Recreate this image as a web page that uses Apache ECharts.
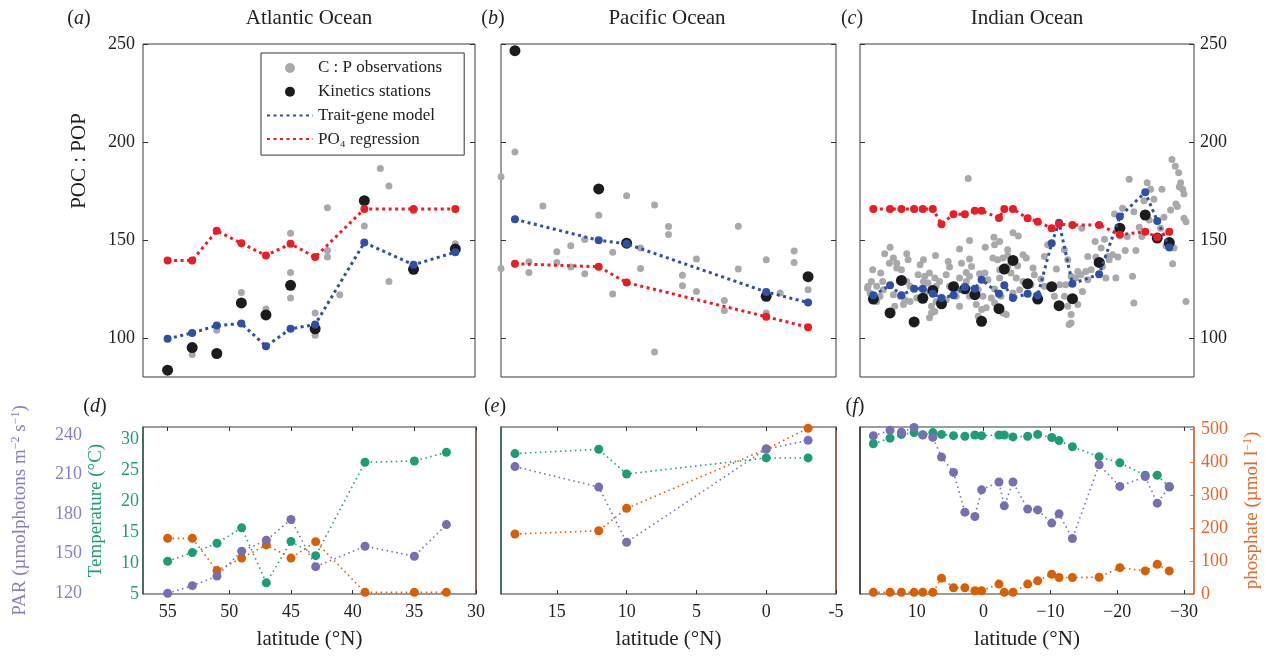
<!DOCTYPE html>
<html>
<head>
<meta charset="utf-8">
<script src="https://cdn.jsdelivr.net/npm/echarts@6/dist/echarts.min.js"></script>
<style>
  html, body { margin: 0; background: #fff; }
  #main { width: 1266px; height: 659px; }
</style>
</head>
<body>
<div id="main"></div>
<script>
// station latitudes (°N)
var atlLat = [55, 53, 51, 49, 47, 45, 43, 39, 35, 31.6];
var atlLatEnv = [55, 53, 51, 49, 47, 45, 43, 39, 35, 32.4];
var pacLat = [18, 12, 10, 0, -3];
var indLat = [16.5, 14, 12.3, 10.4, 9.1, 7.6, 6.3, 4.5, 2.8, 1.3, 0.3, -2.3, -3.1, -4.4, -6.6, -8.1, -10.2, -11.3, -13.3, -17.3, -20.4, -24.2, -26, -27.8];

// POC:POP - Atlantic
var atlTrait = [99.5, 102.5, 106.3, 107.3, 95.7, 104.6, 106.8, 148.6, 137.3, 143.7];
var atlPO4 = [139.5, 139.5, 154.6, 148.3, 142, 148, 141.2, 165.8, 165.8, 165.8];
var atlKin = [83.5, 95, 92, 117.8, 111.7, 126.8, 104.6, 170, 135, 145.3];
var atlObs = [[53,91.5],[51,103.9],[49,123.2],[47,114.7],[45,153.4],[45,133.4],[45,120.3],[43,112.7],[43,101.3],[42,166.4],[42,144.6],[42,141.2],[41,122],[39,157.1],[37.7,186.5],[37,177.5],[37,128.8],[35,164.8],[31.6,148]];

// POC:POP - Pacific
var pacTrait = [160.5, 149.8, 148, 123.4, 118];
var pacPO4 = [137.8, 136.3, 128.2, 110.8, 105.4];
var pacKin = [246.6, 176, 148.3, 121.2, 131.2];
var pacObs = [[19,182.2],[19,135.4],[18,194.9],[17,138.8],[17,133.4],[16,167.3],[15,144],[15,138.5],[14,147],[14,136.1],[13,150.2],[13,132.7],[12,162.6],[11,143.7],[11,122.4],[10,172.5],[9,145.8],[9,135.4],[8,167.8],[8,92.7],[7,156.8],[7,152.7],[6,132],[6,126.6],[5,140.2],[5,123.7],[3,119.1],[3,114],[2,157],[2,135.1],[0,139.8],[0,112.7],[-1,122.9],[-2,144.3],[-2,138.5],[-3,124.6]];

// POC:POP - Indian
var indTrait = [121.7, 126.8, 121.7, 125.1, 125.1, 122.5, 120.3, 121.7, 125.9, 125.1, 129.7, 122.5, 126.8, 120.3, 122.5, 121.7, 148.3, 158.8, 127.6, 132.5, 161.9, 174.3, 159.7, 146.1];
var indPO4 = [165.8, 165.8, 165.8, 165.8, 165.8, 165.8, 158, 163.1, 163.1, 164.9, 164.9, 161.2, 165.8, 165.8, 161, 159.3, 155.9, 158, 157.6, 157.6, 152.6, 154.2, 151.4, 154.2];
var indKin = [119.8, 112.7, 129.3, 108.1, 120.2, 124.2, 117.4, 126.1, 125, 122, 108.4, 114.9, 135.1, 139.5, 127.6, 119.8, 126.1, 116.4, 120, 138.5, 156, 162.7, 150.9, 148.6];
var indObs = [
  [2.3,181.4],[2.1,149.7],[14,146.3],[14.8,142.9],[13.5,140.7],[14.1,138.1],[13,138.1],[11.5,142.9],[11.3,139.8],[12.3,134.7],
  [16.6,134.7],[15.4,133.1],[15.1,128.8],[13,135.6],[9.5,137.3],[9,139.8],[7.2,142],[5.3,139],[5.1,136.1],[3.6,145.3],
  [3.3,138.1],[2.1,140.2],[16.8,128.8],[17.3,126.3],[16,126.3],[17,122.9],[15.5,121.2],[13.5,122],[11.5,128.8],[11,126.3],
  [9.8,132.2],[8.8,131.4],[8.1,133.1],[7.3,130.5],[6.6,128.8],[9,128.8],[8.3,128],[7.1,126.3],[5.6,132.2],[3.6,130.5],
  [2.6,133.4],[11.8,119.5],[10,120.3],[11,118.6],[8.8,122.9],[7.1,118.6],[5.1,126.3],[4.1,121.2],[3.6,116.1],[7.8,116.1],
  [7.8,112.7],[8.1,110.2],[5.6,119.5],[12.5,121.2],[16,118.6],[15,124.6],[13.3,116.1],[12,117],[3.6,124.6],[2.6,128.8],
  [4.3,127.1],[17.4,125.4],[7.3,113.5],
  [-1.55,151.4],[-2.4,149.2],[-0.25,146.3],[-1.65,147.5],[-4.4,153.7],[-5.2,152],[-3.6,144.9],[1.8,136.4],[2.1,131.4],[0.6,132.7],
  [-0.2,133.1],[-0.65,129.7],[-1.4,140.7],[-2.1,139.8],[-2.9,140.7],[-3.6,141.9],[-2.4,134.7],[-2.4,130.5],[-4.1,133.1],[-4.9,130.5],
  [-5.1,136.8],[-5.9,142.4],[-6.4,140.7],[-7.4,135.6],[-7.6,132.2],[-8.6,130],[-9.1,141.5],[-9.6,147.5],[-12.1,144.9],[-12.6,139.8],
  [-10.9,135.1],[-11.4,127.1],[-12.3,127.1],[-13.1,131.4],[0.8,124.6],[0.1,121.2],[-1.15,120.3],[-1.65,124.9],[-2.6,121.2],[-2.9,112.7],
  [-3.4,111.9],[0.3,114.4],[0.8,111],[1.1,117],[-4.4,122.9],[-5.4,124.6],[-5.9,128.8],[-7.1,127.1],[-9.1,126.3],[-10.6,121.2],
  [-12.1,121.2],[-12.6,116.1],[-12.8,106.8],[-1.65,117.8],[-0.4,115.3],[-3.6,136.4],[2.1,121.2],
  [-28.2,191],[-28.7,187.6],[-29.2,184.3],[-29.5,179.2],[-29.8,175.8],[-30,173.4],[-29.3,177.1],[-21.8,180.9],[-24.5,179.2],[-25,175.8],
  [-26.7,175.8],[-25.5,170.7],[-24,170],[-19.6,163.2],[-20.8,166.1],[-22.5,164.4],[-23.3,156.4],[-24.8,160.2],[-27,161.5],[-28,165.3],
  [-28.8,168.3],[-29,167],[-30,161],[-30.3,159.3],[-14.7,156],[-16.7,149.2],[-17.6,145.8],[-18.1,150.3],[-16.8,141.2],[-15.6,141.5],
  [-16.1,134.7],[-15.3,133.9],[-14.1,133.9],[-18.6,141.5],[-19.3,142.4],[-20.1,141.2],[-21.2,144.6],[-22.8,144.6],[-18.8,139.8],[-18.3,130.5],
  [-14.6,132.2],[-13.8,130.5],[-14.8,123.7],[-14.1,117],[-13.1,111.9],[-13.1,107.6],[-22.3,131.4],[-28.3,137.8],[-28.5,145.8],[-22.5,117.8],
  [-30.3,118.6],[-17.8,136.4],[-21.5,151.7],[-23.7,151.7],[-27.3,147],[-26.5,156],[-19.8,130.5],[-15.6,129.7],[-13.6,119.5]
];

// environment: PAR, temperature, phosphate
var atlPAR = [120, 125.8, 133.1, 151.9, 160.2, 175.9, 140.2, 155.7, 148.1, 172.1];
var atlTemp = [10.3, 11.7, 13.2, 15.7, 6.8, 13.5, 11.2, 26.3, 26.5, 27.9];
var atlPhos = [169, 169, 71, 109, 149, 109, 159, 5, 5, 5];
var pacPAR = [216, 200.5, 158.7, 229.3, 235.9];
var pacTemp = [27.7, 28.4, 24.4, 27, 27];
var pacPhos = [182, 192, 260, 440, 503];
var indPAR = [239.4, 243.5, 242, 245.7, 240.2, 238.1, 223.3, 211.6, 181.5, 178.2, 198.4, 204.3, 186.3, 204.3, 183.8, 183.2, 173.2, 180.2, 161.5, 217.4, 201, 208.5, 188.3, 201];
var indTemp = [29.3, 30.2, 30.8, 31.1, 30.7, 31.1, 30.8, 30.6, 30.5, 30.7, 30.6, 30.7, 30.7, 30.4, 30.5, 30.8, 30.3, 29.8, 28.8, 27.2, 26.2, 24.2, 24.2, 22.3];
var indPhos = [5, 5, 5, 5, 5, 5, 48, 19, 19, 10, 10, 30, 5, 5, 30, 40, 60, 50, 50, 51, 80, 70, 90, 70];

// tick labels
var pocTicks = [100, 150, 200, 250];
var parTicks = [120, 150, 180, 210, 240];
var tempTicks = [5, 10, 15, 20, 25, 30];
var phosTicks = [0, 100, 200, 300, 400, 500];
var latTicks = [[55, 50, 45, 40, 35, 30], [15, 10, 5, 0, -5], [10, 0, -10, -20, -30]];
var latRange = [[30, 57], [-5, 19], [-31.5, 18.5]];

var FONT = 'Liberation Serif';
var TXT = '#222';
var C_OBS = '#a9a9ab', C_KIN = '#1c1c1e', C_TRAIT = '#2e50a6', C_PO4 = '#ec1c24';
var C_PAR = '#7570b3', C_TEMP = '#1b9e77', C_PHOS = '#d95f02';

function pairs(xs, ys) {
  return xs.map(function (x, i) { return [x, ys[i]]; });
}

var chart = echarts.init(document.getElementById('main'));

var lefts = [143, 501, 860];
var widths = [332, 335, 334];
var grids = [];
for (var i = 0; i < 3; i++) {
  grids.push({ left: lefts[i], top: 44, width: widths[i], height: 333, show: true, borderColor: '#3a3a3a', borderWidth: 1, outerBoundsMode: 'none' });
}
for (var i = 0; i < 3; i++) {
  grids.push({ left: lefts[i], top: 427, width: widths[i] + (i === 0 ? 1 : 0), height: 167, show: true, borderColor: '#3a3a3a', borderWidth: 1, outerBoundsMode: 'none' });
}

var xAxes = [];
// top row x axes (no ticks)
for (var i = 0; i < 3; i++) {
  xAxes.push({ gridIndex: i, type: 'value', min: latRange[i][0], max: latRange[i][1], inverse: true,
    axisLine: { show: false, onZero: false }, axisTick: { show: false }, axisLabel: { show: false }, splitLine: { show: false } });
}
// bottom row x axes
function latFmt(p) {
  return function (v) {
    if (v < 0) return (p === 2 ? '\u2212' : '-') + Math.abs(v);
    return String(v);
  };
}
for (var i = 0; i < 3; i++) {
  xAxes.push({ gridIndex: 3 + i, type: 'value', min: latRange[i][0], max: latRange[i][1], inverse: true,
    axisLine: { show: false, onZero: false },
    axisTick: { inside: true, length: 4, customValues: latTicks[i], lineStyle: { color: '#333' } },
    axisLabel: { customValues: latTicks[i], formatter: latFmt(i), fontFamily: FONT, fontSize: 18, color: TXT, margin: 9 },
    splitLine: { show: false },
    name: 'latitude (°N)', nameLocation: 'middle', nameGap: 35,
    nameTextStyle: { fontFamily: FONT, fontSize: 21, color: TXT } });
}
for (var i = 0; i < 3; i++) {
  xAxes.push({ gridIndex: 3 + i, type: 'value', position: 'top', min: latRange[i][0], max: latRange[i][1], inverse: true,
    axisLine: { show: false, onZero: false },
    axisTick: { inside: true, length: 4, customValues: latTicks[i], lineStyle: { color: '#333' } },
    axisLabel: { show: false }, splitLine: { show: false } });
}

var yAxes = [];
// POC:POP left and right (0-2, 3-5)
for (var s = 0; s < 2; s++) {
  for (var i = 0; i < 3; i++) {
    yAxes.push({ gridIndex: i, type: 'value', min: 80, max: 250, position: s === 0 ? 'left' : 'right',
      axisLine: { show: false, onZero: false },
      axisTick: { inside: true, length: 5, customValues: pocTicks, lineStyle: { color: '#333' } },
      axisLabel: { show: (s === 0 && i === 0) || (s === 1 && i === 2), customValues: pocTicks,
        fontFamily: FONT, fontSize: 18, color: TXT, margin: s === 0 ? 8 : 6 },
      splitLine: { show: false } });
  }
}
// PAR (6-8)
for (var i = 0; i < 3; i++) {
  yAxes.push({ gridIndex: 3 + i, type: 'value', min: 119.5, max: 246, position: 'left', offset: 53, show: i === 0,
    axisLine: { show: false, onZero: false }, axisTick: { show: false },
    axisLabel: { customValues: parTicks, fontFamily: FONT, fontSize: 18, color: '#8680c2', margin: 8 },
    splitLine: { show: false },
    name: 'PAR (µmolphotons m{s|\u22122} s{s|\u22121})', nameLocation: 'middle', nameGap: 60, nameRotate: 90,
    nameTextStyle: { fontFamily: FONT, fontSize: 19, color: '#8680c2',
      rich: { s: { fontFamily: FONT, fontSize: 12, color: '#8680c2', verticalAlign: 'top', padding: [0, 0, 8, 0] } } } });
}
// temperature (9-11)
for (var i = 0; i < 3; i++) {
  yAxes.push({ gridIndex: 3 + i, type: 'value', min: 5, max: 32, position: 'left',
    axisLine: { show: true, onZero: false, lineStyle: { color: i === 2 ? '#333' : '#2d5e52', width: 1.5 } },
    axisTick: { show: false },
    axisLabel: { show: i === 0, customValues: tempTicks, fontFamily: FONT, fontSize: 18, color: '#1f9d78', margin: 4 },
    splitLine: { show: false },
    name: i === 0 ? 'Temperature (°C)' : '', nameLocation: 'middle', nameGap: 37, nameRotate: 90,
    nameTextStyle: { fontFamily: FONT, fontSize: 19, color: '#1f9d78' } });
}
// phosphate (12-14)
for (var i = 0; i < 3; i++) {
  yAxes.push({ gridIndex: 3 + i, type: 'value', min: 0, max: 507, position: 'right',
    axisLine: { show: true, onZero: false, lineStyle: { color: i === 2 ? '#e0722f' : '#8a5a46', width: 1.5 } },
    axisTick: { show: i === 2, inside: true, length: 4, customValues: phosTicks, lineStyle: { color: '#e0722f' } },
    axisLabel: { show: i === 2, customValues: phosTicks, fontFamily: FONT, fontSize: 18, color: '#e2692a', margin: 7 },
    splitLine: { show: false },
    name: i === 2 ? 'phosphate (µmol l{s|\u22121})' : '', nameLocation: 'middle', nameGap: 48, nameRotate: 90,
    nameTextStyle: { fontFamily: FONT, fontSize: 19, color: '#e2692a',
      rich: { s: { fontFamily: FONT, fontSize: 12, color: '#e2692a', verticalAlign: 'top', padding: [0, 0, 8, 0] } } } });
}

var series = [];
var topSets = [
  { lat: atlLat, obs: atlObs, kin: atlKin, trait: atlTrait, po4: atlPO4 },
  { lat: pacLat, obs: pacObs, kin: pacKin, trait: pacTrait, po4: pacPO4 },
  { lat: indLat, obs: indObs, kin: indKin, trait: indTrait, po4: indPO4 }
];
topSets.forEach(function (d, i) {
  series.push({ name: 'C : P observations', type: 'scatter', xAxisIndex: i, yAxisIndex: i, data: d.obs,
    symbolSize: 7, itemStyle: { color: C_OBS, opacity: 1 }, z: 2 });
  series.push({ name: 'Kinetics stations', type: 'scatter', xAxisIndex: i, yAxisIndex: i, data: pairs(d.lat, d.kin),
    symbolSize: 11, itemStyle: { color: C_KIN, opacity: 1 }, z: 3 });
  series.push({ name: 'Trait-gene model', type: 'line', xAxisIndex: i, yAxisIndex: i, data: pairs(d.lat, d.trait),
    symbol: 'circle', symbolSize: 8, itemStyle: { color: C_TRAIT }, lineStyle: { color: C_TRAIT, width: 3, type: [3, 3.5] }, z: 4 });
  series.push({ name: 'PO\u2084 regression', type: 'line', xAxisIndex: i, yAxisIndex: i, data: pairs(d.lat, d.po4),
    symbol: 'circle', symbolSize: 8, itemStyle: { color: C_PO4 }, lineStyle: { color: C_PO4, width: 3, type: [3, 3.5] }, z: 5 });
});

var botSets = [
  { lat: atlLatEnv, par: atlPAR, temp: atlTemp, phos: atlPhos },
  { lat: pacLat, par: pacPAR, temp: pacTemp, phos: pacPhos },
  { lat: indLat, par: indPAR, temp: indTemp, phos: indPhos }
];
function envLine(name, data, xi, yi, color) {
  return { name: name, type: 'line', xAxisIndex: xi, yAxisIndex: yi, data: data,
    symbol: 'circle', symbolSize: 9, itemStyle: { color: color },
    lineStyle: { color: color, width: 1.6, type: [1.5, 3.5] } };
}
botSets.forEach(function (d, i) {
  series.push(envLine('phosphate', pairs(d.lat, d.phos), 3 + i, 12 + i, C_PHOS));
  series.push(envLine('temperature', pairs(d.lat, d.temp), 3 + i, 9 + i, C_TEMP));
  series.push(envLine('PAR', pairs(d.lat, d.par), 3 + i, 6 + i, C_PAR));
});

var italic = { i: { fontFamily: FONT, fontSize: 20, fontStyle: 'italic', fill: TXT } };
function label(txt, x, y, size) {
  return { type: 'text', x: x, y: y, silent: true,
    style: { text: txt, fontFamily: FONT, fontSize: size || 20, fill: TXT, align: 'center', verticalAlign: 'middle', rich: italic } };
}
var graphics = [
  label('({i|a})', 79, 19), label('Atlantic Ocean', 309, 18, 21),
  label('({i|b})', 493, 19), label('Pacific Ocean', 667, 18, 21),
  label('({i|c})', 852, 19), label('Indian Ocean', 1027, 18, 21),
  label('({i|d})', 95, 407), label('({i|e})', 495, 407), label('({i|f})', 855, 407),
  { type: 'text', x: 79, y: 161, rotation: Math.PI / 2, silent: true,
    style: { text: 'POC : POP', fontFamily: FONT, fontSize: 21, fill: TXT, align: 'center', verticalAlign: 'middle' } }
];

chart.setOption({
  animation: false,
  backgroundColor: '#fff',
  grid: grids,
  xAxis: xAxes,
  yAxis: yAxes,
  legend: {
    left: 261, top: 53, orient: 'vertical', selectedMode: false,
    backgroundColor: '#fff', borderColor: '#333', borderWidth: 1, padding: [6, 22, 7, 5],
    itemWidth: 46, itemHeight: 10, itemGap: 5.7,
    textStyle: { fontFamily: FONT, fontSize: 17, color: TXT, lineHeight: 18 },
    data: [
      { name: 'C : P observations', icon: 'circle' },
      { name: 'Kinetics stations', icon: 'circle' },
      { name: 'Trait-gene model', itemStyle: { opacity: 0 } },
      { name: 'PO\u2084 regression', itemStyle: { opacity: 0 } }
    ]
  },
  graphic: graphics,
  series: series
});
</script>
</body>
</html>
